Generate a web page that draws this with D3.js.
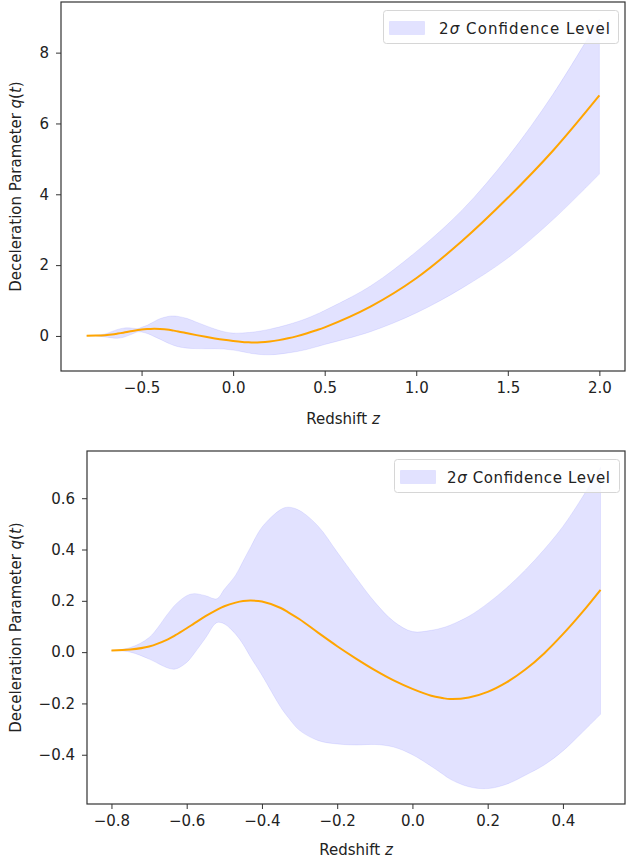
<!DOCTYPE html>
<html>
<head>
<meta charset="utf-8">
<script src="https://cdn.jsdelivr.net/npm/d3@7"></script>
<style>
  body { margin: 0; background: #fff; }
  text { font-family: "DejaVu Sans", sans-serif; fill: #222; }
</style>
</head>
<body>
<div id="chart"></div>
<script>
// redshift grid and the reconstructed deceleration parameter
var redshiftZ = [-0.8, -0.75, -0.7, -0.65, -0.63, -0.6, -0.58, -0.55, -0.52, -0.5,
    -0.47, -0.45, -0.43, -0.4, -0.35, -0.33, -0.3, -0.25, -0.2, -0.15,
    -0.1, -0.05, 0, 0.05, 0.08, 0.1, 0.15, 0.2, 0.25, 0.3,
    0.35, 0.4, 0.45, 0.5, 0.75, 1.0, 1.25, 1.5, 1.75, 2.0];

var qMean = [0.006, 0.01, 0.022, 0.05, 0.066, 0.093, 0.112, 0.14, 0.165, 0.179,
    0.193, 0.199, 0.201, 0.197, 0.172, 0.155, 0.128, 0.075, 0.023, -0.025,
    -0.07, -0.11, -0.143, -0.17, -0.179, -0.183, -0.177, -0.155, -0.118, -0.068,
    -0.005, 0.07, 0.153, 0.243, 0.83, 1.63, 2.68, 3.9, 5.25, 6.79];

var qUpper = [0.006, 0.018, 0.057, 0.15, 0.185, 0.22, 0.228, 0.22, 0.208, 0.245,
    0.3, 0.355, 0.41, 0.487, 0.556, 0.565, 0.552, 0.49, 0.39, 0.29,
    0.195, 0.12, 0.08, 0.085, 0.095, 0.105, 0.14, 0.19, 0.25, 0.32,
    0.4, 0.49, 0.6, 0.72, 1.41, 2.38, 3.55, 5.05, 6.85, 8.95];

var qLower = [0.006, 0.0, -0.027, -0.062, -0.066, -0.04, -0.005, 0.055, 0.115, 0.11,
    0.07, 0.03, -0.02, -0.09, -0.215, -0.255, -0.305, -0.345, -0.358, -0.362,
    -0.36, -0.37, -0.4, -0.445, -0.475, -0.495, -0.525, -0.532, -0.515, -0.48,
    -0.44, -0.385, -0.315, -0.242, 0.12, 0.65, 1.35, 2.2, 3.3, 4.57];

var topXTicks = [-0.5, 0.0, 0.5, 1.0, 1.5, 2.0];
var topYTicks = [0, 2, 4, 6, 8];
var bottomXTicks = [-0.8, -0.6, -0.4, -0.2, 0.0, 0.2, 0.4];
var bottomYTicks = [-0.4, -0.2, 0.0, 0.2, 0.4, 0.6];

var legendLabel = "Confidence Level";

var rows = redshiftZ.map(function(z, i) {
    return { z: z, mean: qMean[i], lo: qLower[i], hi: qUpper[i] };
});

var svgWidth = 626, svgHeight = 863;
var svg = d3.select("#chart").append("svg")
    .attr("width", svgWidth)
    .attr("height", svgHeight);

var smooth = d3.curveCatmullRom.alpha(0.5);

function drawPanel(cfg) {
    var data = rows.filter(function(d) { return d.z <= cfg.zMax + 1e-9; });
    var x = d3.scaleLinear().domain(cfg.xDomain).range([cfg.left, cfg.right]);
    var y = d3.scaleLinear().domain(cfg.yDomain).range([cfg.bottom, cfg.top]);
    var g = svg.append("g");

    var clipId = "clip" + cfg.id;
    g.append("clipPath").attr("id", clipId)
      .append("rect")
        .attr("x", cfg.left).attr("y", cfg.top)
        .attr("width", cfg.right - cfg.left).attr("height", cfg.bottom - cfg.top);

    var band = d3.area()
        .x(function(d) { return x(d.z); })
        .y0(function(d) { return y(d.lo); })
        .y1(function(d) { return y(d.hi); })
        .curve(smooth);
    var line = d3.line()
        .x(function(d) { return x(d.z); })
        .y(function(d) { return y(d.mean); })
        .curve(smooth);

    var plot = g.append("g").attr("clip-path", "url(#" + clipId + ")");
    plot.append("path").datum(data)
        .attr("d", band)
        .attr("fill", "rgb(0,0,255)").attr("fill-opacity", 0.115)
        .attr("stroke", "rgb(0,0,255)").attr("stroke-opacity", 0.08);
    plot.append("path").datum(data)
        .attr("d", line)
        .attr("fill", "none")
        .attr("stroke", "#ffa500")
        .attr("stroke-width", 2);

    // axes
    var xAxis = g.append("g")
        .attr("transform", "translate(0," + cfg.bottom + ")")
        .call(d3.axisBottom(x).tickValues(cfg.xTicks).tickFormat(d3.format(cfg.xFmt)).tickSize(5).tickPadding(6));
    var yAxis = g.append("g")
        .attr("transform", "translate(" + cfg.left + ",0)")
        .call(d3.axisLeft(y).tickValues(cfg.yTicks).tickFormat(d3.format(cfg.yFmt)).tickSize(5).tickPadding(7));
    [xAxis, yAxis].forEach(function(a) {
        a.select(".domain").remove();
        a.selectAll("line").attr("stroke", "#333");
        a.selectAll("text").attr("fill", "#222")
            .style("font-family", "DejaVu Sans").style("font-size", "15px");
    });

    g.append("rect")
        .attr("x", cfg.left).attr("y", cfg.top)
        .attr("width", cfg.right - cfg.left).attr("height", cfg.bottom - cfg.top)
        .attr("fill", "none").attr("stroke", "#333").attr("stroke-width", 1.2);

    // axis titles
    var xt = g.append("text")
        .attr("x", (cfg.left + cfg.right) / 2)
        .attr("y", cfg.xTitleY)
        .attr("text-anchor", "middle")
        .style("font-size", "15px");
    xt.append("tspan").text("Redshift ");
    xt.append("tspan").style("font-style", "italic").text("z");

    var yt = g.append("text")
        .attr("transform", "translate(" + cfg.yTitleX + "," + ((cfg.top + cfg.bottom) / 2) + ") rotate(-90)")
        .attr("text-anchor", "middle")
        .style("font-size", "15px");
    yt.append("tspan").text("Deceleration Parameter ");
    yt.append("tspan").style("font-style", "italic").text("q");
    yt.append("tspan").text("(");
    yt.append("tspan").style("font-style", "italic").text("t");
    yt.append("tspan").text(")");

    // legend
    var lg = g.append("g");
    lg.append("rect")
        .attr("x", cfg.legend.x).attr("y", cfg.legend.y)
        .attr("width", cfg.legend.w).attr("height", 33)
        .attr("rx", 3)
        .attr("fill", "#fff").attr("fill-opacity", 0.8)
        .attr("stroke", "#d6d6d6");
    lg.append("rect")
        .attr("x", cfg.legend.x + 6).attr("y", cfg.legend.y + 11)
        .attr("width", 35).attr("height", 13)
        .attr("fill", "rgb(0,0,255)").attr("fill-opacity", 0.115)
        .attr("stroke", "rgb(0,0,255)").attr("stroke-opacity", 0.06);
    var lt = lg.append("text")
        .attr("x", cfg.legend.textX)
        .attr("y", cfg.legend.y + 23)
        .attr("textLength", cfg.legend.textW)
        .style("font-size", "15px");
    lt.append("tspan").text("2");
    lt.append("tspan").style("font-style", "italic").text("\u03c3");
    lt.append("tspan").text(" " + legendLabel);
}

drawPanel({
    id: "top", zMax: 2.0,
    left: 61, right: 625, top: 2, bottom: 371,
    xDomain: [-0.94, 2.14], yDomain: [-0.99, 9.43],
    xTicks: topXTicks, yTicks: topYTicks, xFmt: ".1f", yFmt: "d",
    xTitleY: 424, yTitleX: 21,
    legend: { x: 383.5, y: 10.5, w: 235, textX: 439, textW: 171 }
});

drawPanel({
    id: "bottom", zMax: 0.5,
    left: 87, right: 625, top: 451, bottom: 804,
    xDomain: [-0.865, 0.565], yDomain: [-0.592, 0.784],
    xTicks: bottomXTicks, yTicks: bottomYTicks, xFmt: ".1f", yFmt: ".1f",
    xTitleY: 855, yTitleX: 21,
    legend: { x: 394.5, y: 459.5, w: 225, textX: 447, textW: 163 }
});
</script>
</body>
</html>
